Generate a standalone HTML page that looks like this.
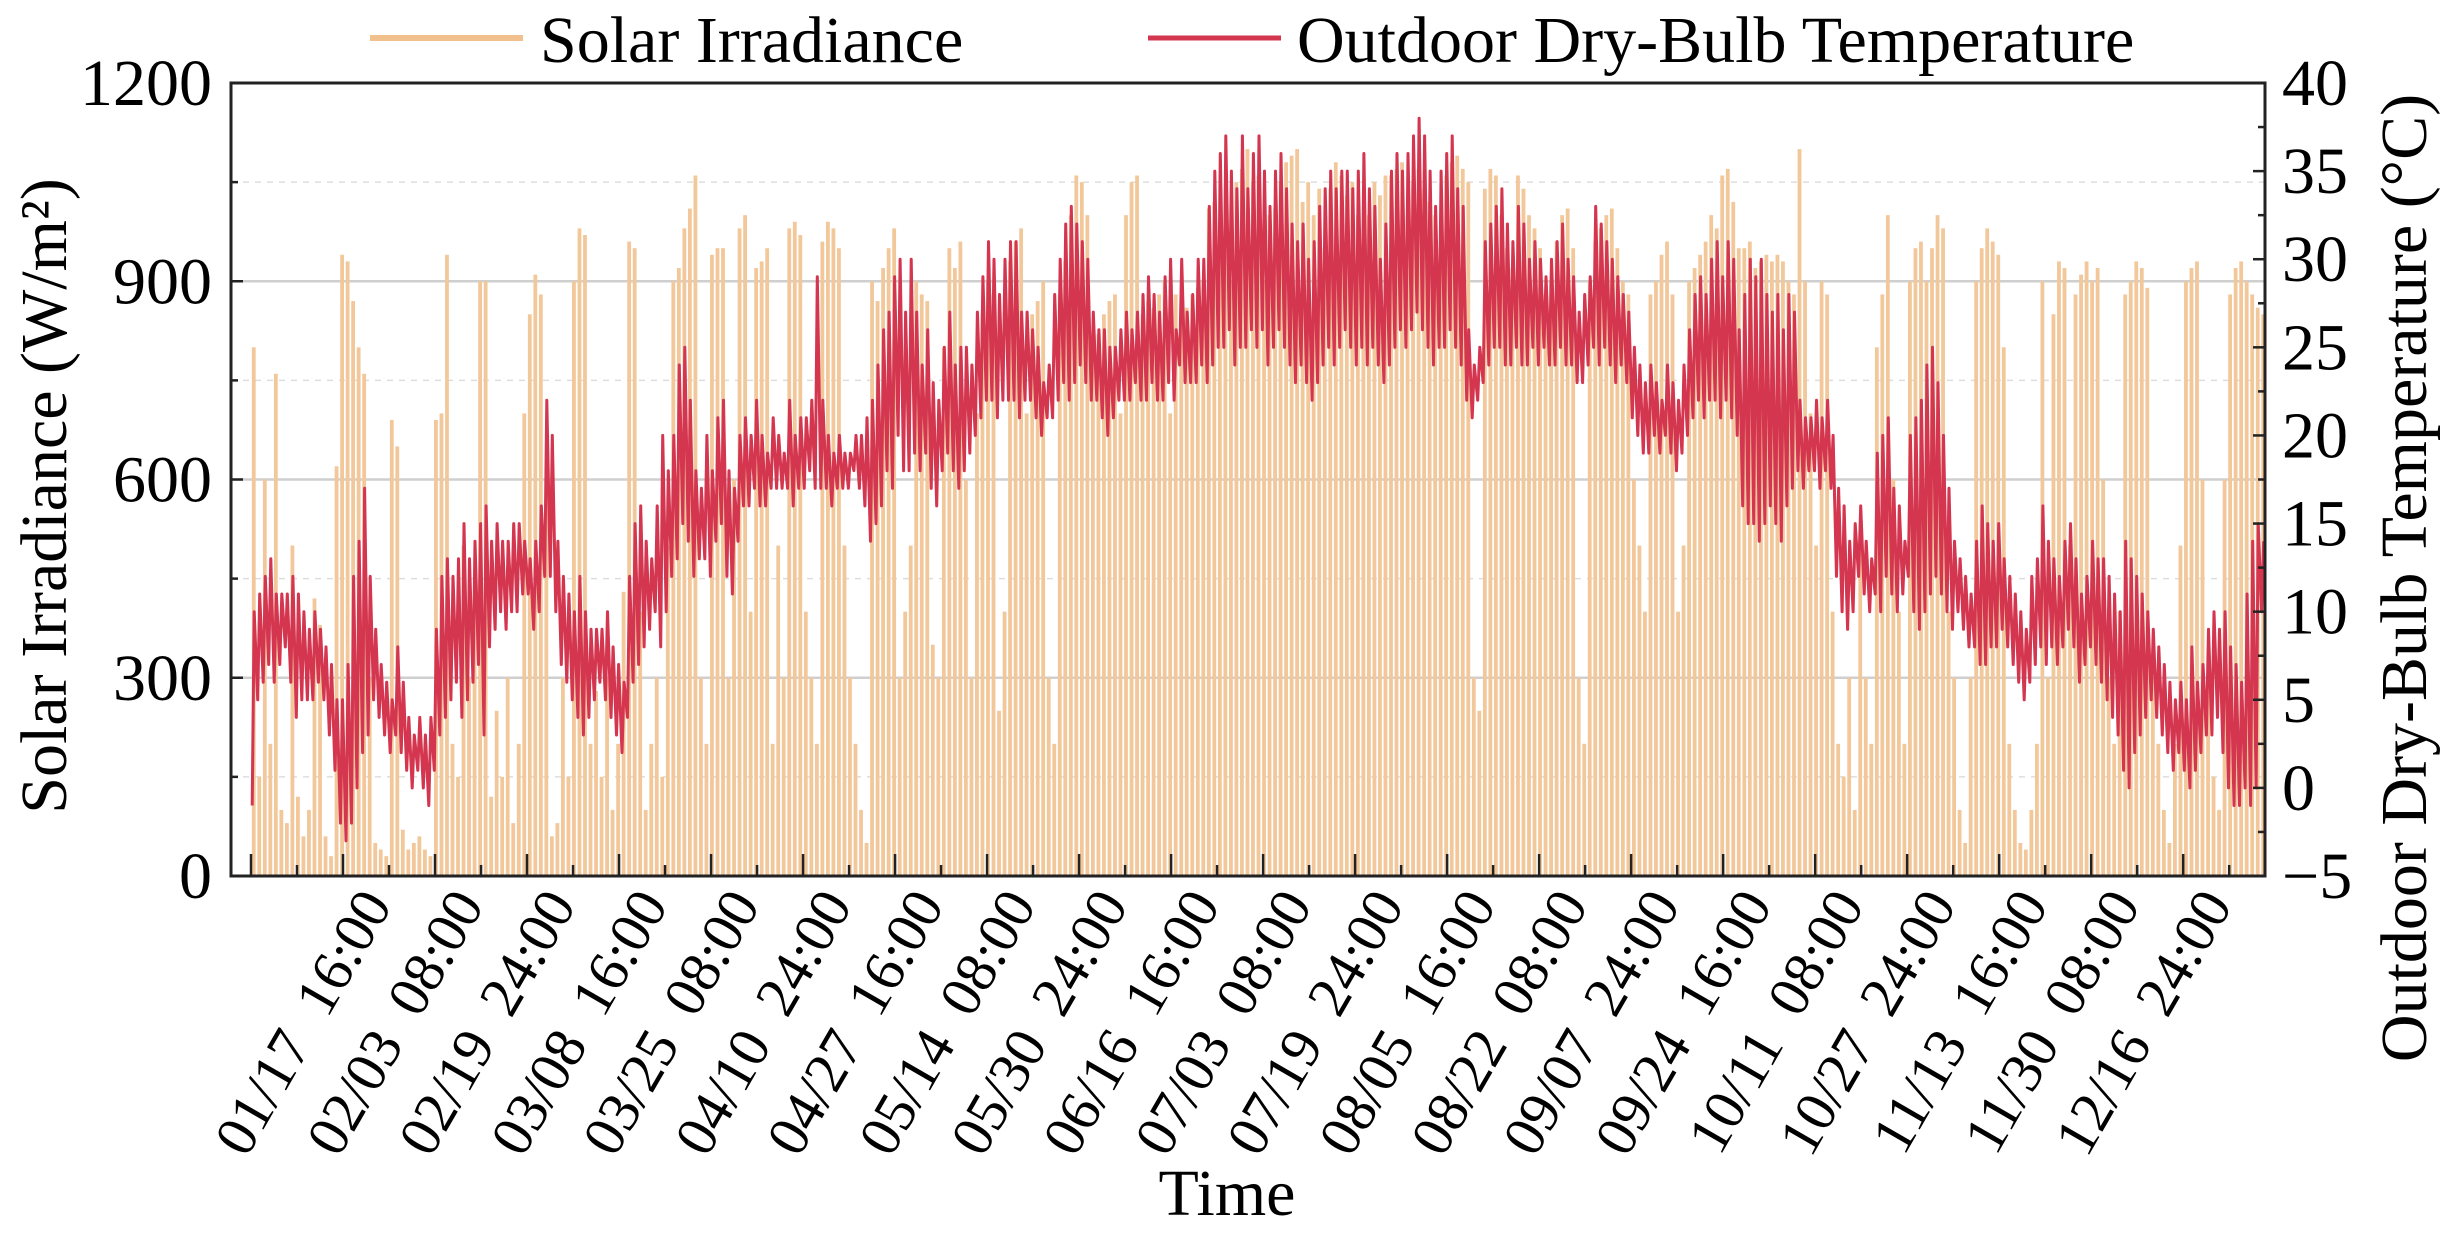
<!DOCTYPE html>
<html><head><meta charset="utf-8">
<style>
html,body{margin:0;padding:0;background:#fff;}
svg{display:block;font-family:"Liberation Serif",serif;}
</style></head>
<body>
<svg id="chart" width="2451" height="1238" viewBox="0 0 2451 1238" xmlns="http://www.w3.org/2000/svg">
<g id="grid"></g>
<g id="bars"></g>
<g id="line"></g>
<g id="axes"></g>
<g id="legend">
  <line x1="370" y1="38" x2="523" y2="38" stroke="#f2c08c" stroke-width="6"/>
  <text x="540" y="62" font-size="66">Solar Irradiance</text>
  <line x1="1148" y1="38" x2="1281" y2="38" stroke="#d4354f" stroke-width="5"/>
  <text x="1297" y="62" font-size="66">Outdoor Dry-Bulb Temperature</text>
</g>
<text transform="translate(66,496) rotate(-90)" text-anchor="middle" font-size="66">Solar Irradiance (W/m²)</text>
<text transform="translate(2426,578) rotate(-90)" text-anchor="middle" font-size="66">Outdoor Dry-Bulb Temperature (°C)</text>
<text x="1227" y="1215" text-anchor="middle" font-size="66">Time</text>
</svg>
<script>
const solarPeak = [
800,150,600,200,760,100,80,500,120,60,
100,420,380,60,30,620,940,930,870,800,
760,300,50,40,30,690,650,70,40,50,
60,40,30,690,700,940,200,150,500,300,
400,900,900,120,250,150,300,80,200,700,
850,910,880,600,60,80,300,150,900,980,
970,200,280,150,300,100,200,430,960,950,
400,100,200,300,150,500,900,920,980,1010,
1060,300,200,940,950,950,300,600,980,1000,
400,920,930,950,200,500,300,980,990,970,
400,300,200,960,990,980,950,500,300,200,
100,50,900,870,920,950,980,300,400,500,
900,880,870,350,300,800,950,920,960,600,
300,700,850,900,880,250,400,930,960,980,
700,850,870,900,300,200,880,930,1000,1060,
1050,1000,800,820,850,870,880,700,1000,1050,
1060,850,870,860,880,900,700,880,840,860,
880,890,900,1010,1020,950,1000,900,1050,1070,
1100,1050,1060,900,1000,1010,1050,1080,1090,1100,
1020,1050,1000,1040,950,1040,1080,1060,1030,1050,
1000,980,1000,1050,1030,1060,1060,1070,1080,1000,
1050,1070,1040,1020,1000,950,1060,1080,1090,1070,
1050,300,250,1040,1070,1060,1000,950,920,1060,
1040,1000,980,950,880,900,960,1000,1010,950,
300,200,900,960,980,1000,1010,950,900,880,
600,500,400,880,900,940,960,880,400,500,
900,920,940,960,1000,980,1060,1070,1020,950,
950,960,920,930,940,930,940,930,900,880,
1100,900,700,500,900,880,400,200,150,300,
100,500,300,200,800,880,1000,600,400,200,
900,950,960,900,950,1000,980,400,300,100,
50,300,900,950,980,960,940,800,200,100,
50,40,100,200,900,300,850,930,920,500,
880,910,930,900,920,600,300,200,400,880,
900,930,920,890,300,200,100,50,200,500,
900,920,930,600,300,150,100,600,880,920,
930,900,880,860,850];
const tempMin = [
-1,5,6,7,6,7,8,6,4,5, 5,5,6,5,3,1,-2,-3,-2,0,
2,3,5,4,3,2,3,2,1,0, 1,0,-1,1,3,4,5,6,4,5,
6,7,3,8,9,10,9,10,10,11, 11,9,10,12,12,10,7,6,5,4,
3,4,5,6,5,4,3,2,4,6, 7,8,9,10,8,10,12,13,15,14,
12,13,13,12,14,15,12,11,14,16, 16,17,16,16,17,17,17,17,16,17,
17,18,17,17,17,16,17,17,17,18, 17,16,14,15,16,18,17,20,18,18,
19,18,19,17,16,18,19,18,17,18, 19,20,21,22,22,21,22,22,22,21,
22,22,21,20,21,21,22,23,22,23, 24,23,22,22,21,20,21,22,22,22,
23,22,22,23,22,22,23,22,24,23, 23,23,24,23,24,25,25,26,24,25,
25,26,25,26,24,25,26,25,24,23, 24,23,22,23,24,25,24,25,26,25,
24,25,24,25,24,23,24,25,26,25, 26,27,26,25,24,25,25,26,25,24,
22,21,22,23,24,25,25,24,24,25, 24,24,25,24,25,24,24,25,24,24,
23,23,24,25,24,25,24,23,24,23, 21,20,19,19,20,19,20,19,18,19,
20,21,22,21,22,22,21,22,21,20, 16,15,15,14,15,16,15,14,16,17,
18,17,18,18,17,18,17,12,10,9, 10,12,11,10,11,10,12,11,10,11,
12,10,9,10,11,12,11,10,9,10, 9,8,8,7,7,8,8,9,8,7,
6,5,6,7,8,7,8,7,8,9, 8,6,7,8,7,6,5,4,3,1,
0,2,3,4,5,4,3,2,1,2, 1,0,1,2,3,3,4,2,0,-1,
-1,0,-1,0,10];
const tempMax = [
10,11,12,13,11,11,11,12,11,10, 9,10,9,8,7,5,5,7,12,14,
17,12,9,7,6,5,8,6,4,3, 4,3,4,9,12,13,12,13,15,13,
14,15,16,14,15,14,14,15,15,14, 13,14,16,22,20,14,12,11,10,12,
10,9,9,9,10,8,7,6,12,15, 16,14,13,16,20,18,20,24,25,22,
18,17,20,18,21,22,18,17,20,21, 20,22,20,19,21,20,19,22,20,21,
21,22,29,22,20,19,20,19,19,20, 20,21,22,24,26,27,29,30,27,30,
27,24,26,23,22,25,27,24,25,25, 24,27,29,31,30,28,30,31,31,27,
27,26,25,23,24,28,30,32,33,32, 31,30,27,26,26,25,25,26,27,26,
27,28,29,28,27,29,30,26,30,27, 28,30,30,33,35,36,37,35,34,37,
34,36,37,35,33,35,36,34,32,31, 32,30,31,33,34,35,34,35,35,34,
35,36,34,33,30,32,35,36,35,36, 37,38,37,35,33,35,36,37,34,33,
26,24,25,31,32,33,34,32,31,33, 32,30,31,30,29,30,31,32,30,29,
27,28,29,33,32,31,30,29,28,27, 25,24,23,24,23,22,24,23,22,24,
26,28,29,28,30,31,29,31,30,26, 28,30,29,30,28,27,28,26,28,27,
22,21,21,22,21,22,20,17,16,14, 15,16,14,13,19,20,21,17,16,14,
20,21,22,24,25,23,20,17,14,13, 12,11,14,16,15,14,15,13,12,11,
10,9,12,13,16,14,13,12,14,15, 13,11,12,14,13,13,12,11,10,14,
13,12,11,10,9,8,7,6,5,6, 5,8,6,7,9,10,9,10,8,7,
6,11,14,15,14];
const xTickLabels = ["01/17  16:00","02/03  08:00","02/19  24:00","03/08  16:00","03/25  08:00","04/10  24:00","04/27  16:00","05/14  08:00","05/30  24:00","06/16  16:00","07/03  08:00","07/19  24:00","08/05  16:00","08/22  08:00","09/07  24:00","09/24  16:00","10/11  08:00","10/27  24:00","11/13  16:00","11/30  08:00","12/16  24:00"];
const leftTicks = [0,300,600,900,1200];
const rightTicks = [-5,0,5,10,15,20,25,30,35,40];

const NS = "http://www.w3.org/2000/svg";
const L = 231, R = 2265, T = 83, B = 876;
function xH(h){ return 251 + h * (2015/8760); }
function yS(v){ return B - v * ((B - T)/1200); }
function yT(t){ return B - (t + 5) * ((B - T)/45); }
function mk(tag, attrs, parent){ const e = document.createElementNS(NS, tag); for (const k in attrs) e.setAttribute(k, attrs[k]); parent.appendChild(e); return e; }

const grid = document.getElementById('grid');
[150,300,450,600,750,900,1050].forEach(v => {
  const solid = v % 300 === 0;
  const g = mk('line', {x1:L, x2:R, y1:yS(v), y2:yS(v), stroke: solid ? '#cfcfcf' : '#dddddd', 'stroke-width': solid ? 2.5 : 1.5, 'stroke-dasharray': solid ? 'none' : '6 6'}, grid);
  
  
});

const bars = document.getElementById('bars');
solarPeak.forEach((v, d) => {
  const x = xH(d*24 + 12);
  const b = mk('rect', {x: x - 1.9, y: yS(v), width: 3.8, height: B - yS(v), fill: '#f2c79a'}, bars);
  
  
});

const pts = [];
for (let d = 0; d < tempMin.length; d++) {
  pts.push(xH(d*24 + 5).toFixed(1) + ',' + yT(tempMin[d]).toFixed(1));
  pts.push(xH(d*24 + 14).toFixed(1) + ',' + yT(tempMax[d]).toFixed(1));
}
const pl = mk('polyline', {points: pts.join(' '), fill: 'none', stroke: '#d4354f', 'stroke-width': 3, 'stroke-linejoin': 'round'}, document.getElementById('line'));



const axes = document.getElementById('axes');
const frame = mk('rect', {x: L, y: T, width: R - L, height: B - T, fill: 'none', stroke: '#222', 'stroke-width': 3}, axes);


for (let v = 0; v <= 1200; v += 150) {
  const t = mk('line', {x1: L, x2: L + (v % 300 === 0 ? 12 : 7), y1: yS(v), y2: yS(v), stroke: '#222', 'stroke-width': 2.5}, axes);
  
  
}
leftTicks.forEach(v => {
  const t = mk('text', {x: 212, y: yS(v) + 22, 'text-anchor': 'end', 'font-size': 66}, axes);
  t.textContent = v;
  
  
});
for (let v = -5; v <= 40; v += 2.5) {
  const t = mk('line', {x1: R, x2: R - (v % 5 === 0 ? 12 : 7), y1: yT(v), y2: yT(v), stroke: '#222', 'stroke-width': 2.5}, axes);
  
  
}
rightTicks.forEach(v => {
  const t = mk('text', {x: 2282, y: yT(v) + 22, 'font-size': 66}, axes);
  t.textContent = v < 0 ? '\u2212' + Math.abs(v) : String(v);
  
  
});
for (let h = 0; h <= 8600; h += 200) {
  const major = h % 400 === 0;
  const t = mk('line', {x1: xH(h), x2: xH(h), y1: B, y2: B - (major ? 22 : 11), stroke: '#222', 'stroke-width': 2.5}, axes);
  
  
}
xTickLabels.forEach((s, i) => {
  const x = xH(400*(i+1)) + 50, y = 905;
  const t = mk('text', {transform: 'translate(' + x.toFixed(1) + ',' + y + ') rotate(-60)', 'text-anchor': 'end', 'font-size': 58}, axes);
  t.setAttribute('style', 'white-space:pre');
  t.textContent = s;
  
  
});
</script>
</body></html>
